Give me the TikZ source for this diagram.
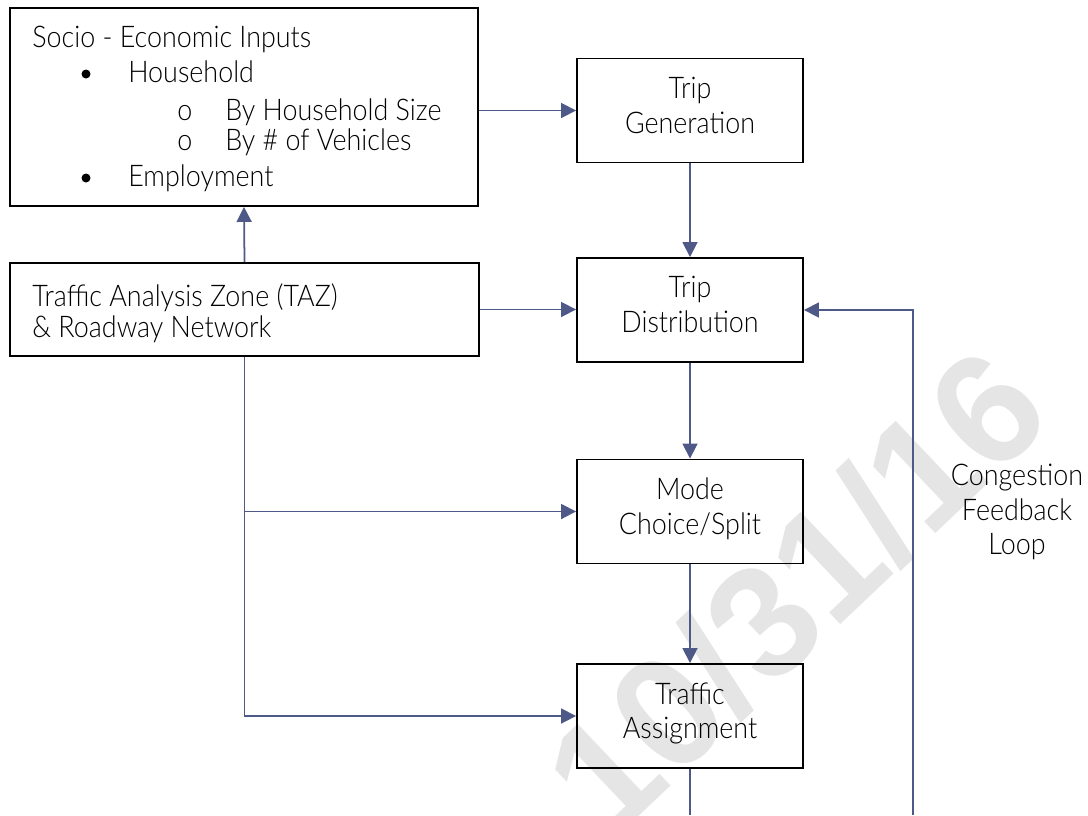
\documentclass[tikz,border=0pt]{standalone}
\usepackage{fontspec}
\setmainfont{Lato}[UprightFont=* Light, FakeStretch=0.9]
\newfontfamily\stampfont{Liberation Sans}
\usepackage{xcolor}
\definecolor{tmlink}{RGB}{78,89,135}
\definecolor{tmstamp}{RGB}{229,229,229}
\usetikzlibrary{arrows.meta, positioning}

\begin{document}
\begin{tikzpicture}[x=0.02cm, y=-0.02cm,
    font=\fontsize{17}{19.8}\selectfont,
    stepbox/.style={draw=black, line width=1.1pt, minimum width=4.52cm,
                    minimum height=2.08cm, align=center, inner sep=0pt, text depth=6pt},
    wire/.style={draw=tmlink, line width=1pt},
    link/.style={wire, -{Triangle[length=0.3cm, width=0.3cm]}},
    txt/.style={anchor=base west, inner sep=0pt},
    dot/.style={circle, fill=black, inner sep=0pt, minimum size=0.18cm}]
  \useasboundingbox (0,0) rectangle (1088,815);

  % Date stamp behind everything
  \node[text=tmstamp, rotate=43.5, font=\stampfont\bfseries\fontsize{90}{90}\selectfont]
       (stamp) at (795,591) {10/31/16};

  % Inputs
  \node[stepbox, minimum width=9.36cm, minimum height=3.96cm, text depth=0pt] (socio) at (244,107) {};
  \node[txt] (se0) at (32,47) {Socio - Economic Inputs};
  \node[dot] (b1) at (86,74) {};
  \node[txt] (se1) at (128,82) {Household};
  \node[txt] (o1) at (177,120) {o};
  \node[txt] (se2) at (225,120) {By Household Size};
  \node[txt] (o2) at (177,150) {o};
  \node[txt] (se3) at (225,150) {By \# of Vehicles};
  \node[dot] (b2) at (86,178) {};
  \node[txt] (se4) at (128,186) {Employment};

  \node[stepbox, minimum width=9.38cm, minimum height=1.86cm, text depth=0pt] (taz) at (244.5,309.5) {};
  \node[txt] (taz1) at (32,306) {Traffic Analysis Zone (TAZ)};
  \node[txt] (taz2) at (32,337) {\& Roadway Network};

  % Model steps
  \node[stepbox] (tg) at (690,110.5) {Trip\\Generation};
  \node[stepbox] (td) at (690,310) {Trip\\Distribution};
  \node[stepbox] (mode) at (690,511.5) {Mode\\Choice/Split};
  \node[stepbox] (ta) at (690,716) {Traffic\\Assignment};

  \node[align=center, inner sep=0pt] (cfl) at (1017,512) {Congestion\\Feedback\\Loop};

  % Connectors
  \draw[link] (tg.west -| socio.east) -- (tg.west);
  \draw[link] (taz.north) -- (socio.south);
  \draw[link] (taz.east) -- (taz.east -| td.west);
  \draw[link] (tg) -- (td);
  \draw[link] (td) -- (mode);
  \draw[link] (mode) -- (ta);
  \draw[link] (taz.south |- mode.west) -- (mode.west);
  \draw[link] (taz.south) |- (ta.west);

  % Feedback loop (runs off the bottom)
  \coordinate (loopa) at (690,815);
  \coordinate (loopb) at (913,815);
  \draw[wire] (ta.south) -- (loopa);
  \draw[link] (loopb) |- (td.east);
\end{tikzpicture}
\end{document}
